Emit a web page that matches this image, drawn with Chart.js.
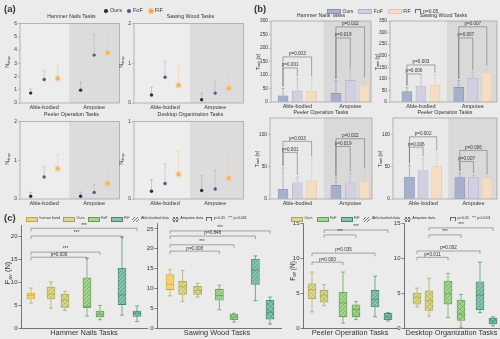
<!DOCTYPE html>
<html>
<head>
<meta charset="utf-8">
<script src="https://cdn.jsdelivr.net/npm/chart.js@4.4.1/dist/chart.umd.min.js"></script>
<style>
html, body { margin: 0; padding: 0; background: #ebebeb; overflow: hidden; }
#fig { position: relative; width: 500px; height: 339px; overflow: hidden; font-family: "Liberation Sans", Arial, sans-serif; color: #333; }
#fig canvas { position: absolute; }
.t { position: absolute; white-space: nowrap; line-height: 1; }
.c { transform: translate(-50%, -50%); }
.m { transform: translateY(-50%); }
.r { transform: translate(-50%, -50%) rotate(-90deg); }
.t sub { font-size: 70%; vertical-align: -0.25em; line-height: 0; }
.sw { position: absolute; box-sizing: border-box; }
</style>
</head>
<body>
<div id="fig"></div>
<script>
/*global Chart*/
"use strict";

// ---------- data ----------
var groups = ["Able-bodied", "Amputee"];
var methods = ["Ours", "FoF", "FiF"];
var aTitles = ["Hammer Nails Tasks", "Sawing Wood Tasks", "Peeler Operation Tasks", "Desktop Organization Tasks"];
var bTitles = ["Hammer Nails Tasks", "Sawing Wood Tasks", "Peeler Operation Tasks", "Peeler Operation Tasks"];
var cTitles = ["Hammer Nails Tasks", "Sawing Wood Tasks", "Peeler Operation Tasks", "Desktop Organization Tasks"];

// (a) N_drop, order: Ours, FoF, FiF (able-bodied), Ours, FoF, FiF (amputee)
var dropMean = [
	[0.75, 1.78, 1.86, 0.97, 3.62, 3.8],
	[0.2, 0.65, 0.45, 0.08, 0.25, 0.37],
	[0.07, 0.57, 0.78, 0.07, 0.17, 0.4],
	[0.1, 0.2, 0.32, 0.11, 0.13, 0.27]
];
var dropHigh = [
	[1.05, 2.45, 2.8, 1.58, 5.2, 5.28],
	[0.4, 1.05, 0.95, 0.25, 0.55, 0.7],
	[0.17, 0.83, 1.15, 0.18, 0.38, 0.7],
	[0.25, 0.45, 0.62, 0.3, 0.37, 0.58]
];
var dropMax = [6, 2, 2, 1];
var dropTicks = [[0, 1, 2, 3, 4, 5, 6], [0, 1, 2], [0, 1, 2], [0, 1]];

// (b) T_task (s), same order
var taskMean = [
	[23, 41, 40, 32, 80, 63],
	[45, 69, 72, 63, 103, 126],
	[15, 25, 28, 21, 25, 27],
	[34, 44, 50, 33, 33, 32]
];
var taskHigh = [
	[50, 88, 86, 78, 118, 84],
	[62, 105, 117, 92, 128, 150],
	[48, 34, 62, 33, 40, 44],
	[52, 63, 72, 40, 37, 35]
];
var taskMax = [300, 350, 125, 125];
var taskTicks = [[0, 50, 100, 150, 200, 250, 300], [0, 50, 100, 150, 200, 250, 300, 350], [0, 50, 100], [0, 50, 100]];
// [from, to, bracket height, label]
var taskSig = [
	[[0, 1, 126, "p=0.001"], [0, 2, 167, "p=0.003"], [3, 4, 237, "p=0.019"], [3, 5, 278, "p=0.022"]],
	[[0, 1, 121, "p=0.006"], [0, 2, 160, "p=0.003"], [3, 4, 277, "p=0.007"], [3, 5, 325, "p=0.007"]],
	[[0, 1, 72, "p=0.001"], [0, 2, 89, "p=0.003"], [3, 4, 81, "p=0.019"], [3, 5, 93, "p=0.022"]],
	[[0, 1, 80, "p=0.006"], [0, 2, 96, "p=0.002"], [3, 4, 58, "p=0.007"], [3, 5, 75, "p=0.006"]]
];

// (c) F_av (N), each box: [min, q1, median, q3, max]
var kinds7 = ["human", "oursA", "oursP", "fofA", "fofP", "fifA", "fifP"];
var kinds6 = ["oursA", "oursP", "fofA", "fofP", "fifA", "fifP"];
var forceHammer = [
	[5.4, 6.3, 7.1, 7.6, 8.7],
	[4.3, 6.3, 7.4, 8.9, 10.0],
	[3.8, 4.5, 6.1, 7.4, 8.0],
	[2.6, 4.4, 4.7, 10.9, 15.2],
	[1.8, 2.4, 3.0, 3.7, 4.9],
	[2.8, 5.1, 7.2, 13.0, 19.8],
	[1.4, 2.5, 3.2, 3.7, 4.8]
];
var forceSawing = [
	[8.1, 9.7, 11.0, 13.5, 14.8],
	[6.7, 8.5, 10.4, 11.8, 14.5],
	[7.8, 8.5, 9.5, 10.5, 11.3],
	[4.6, 7.0, 8.2, 9.8, 10.8],
	[1.5, 2.1, 2.8, 3.5, 3.7],
	[6.9, 11.0, 14.6, 17.4, 18.2],
	[1.0, 2.2, 4.0, 7.0, 7.8]
];
var forcePeeler = [
	[2.3, 4.2, 5.5, 6.3, 8.0],
	[3.2, 3.7, 4.7, 5.4, 6.2],
	[0.7, 1.6, 3.6, 5.1, 8.0],
	[1.2, 1.6, 2.6, 3.3, 3.8],
	[1.6, 3.0, 4.1, 5.4, 7.4],
	[1.0, 1.2, 1.6, 2.1, 2.2]
];
var forceDesktop = [
	[3.0, 3.4, 4.4, 5.0, 5.7],
	[1.7, 2.5, 3.9, 5.3, 7.1],
	[1.5, 3.4, 4.9, 6.7, 7.8],
	[0.1, 1.1, 2.0, 4.0, 4.8],
	[2.2, 2.6, 4.7, 6.6, 9.4],
	[0.3, 0.6, 1.0, 1.4, 1.6]
];
var forceBoxes = [forceHammer, forceSawing, forcePeeler, forceDesktop];
var forceMax = [22.4, 26.5, 15, 15];
var forceTicks = [[0, 5, 10, 15, 20], [0, 5, 10, 15, 20, 25], [0, 5, 10, 15], [0, 5, 10, 15]];
var forceSig = [
	[[0, 6, 21.7, "***"], [0, 5, 20.0, "***"], [0, 4, 16.5, "***"], [0, 3, 15.4, "p=0.009"]],
	[[0, 6, 24.5, "***"], [0, 5, 23.2, "p=0.848"], [0, 4, 21.0, "***"], [0, 3, 19.4, "p=0.008"]],
	[[1, 5, 14.0, "***"], [1, 3, 13.3, "***"], [0, 4, 10.7, "p=0.035"], [0, 2, 9.4, "p=0.003"]],
	[[1, 5, 14.3, "***"], [1, 3, 13.3, "***"], [0, 4, 11.0, "p=0.002"], [0, 2, 10.1, "p=0.011"]]
];

// ---------- layout ----------
// plot rectangles [left, top, right, bottom] in page pixels
var aRects = [[20, 21, 123, 103], [134, 21, 247, 103], [20, 119, 123, 199], [134, 119, 247, 199]];
var aRange = [[0.21, 7.57], [-0.29, 7.78], [0.21, 7.57], [-0.29, 7.78]];
var bRects = [[271, 21, 371, 102], [390, 21, 497, 102], [270, 118, 372, 199], [393, 118, 497, 199]];
var bRange = [[0.16, 7.15], [-0.21, 7.43], [0.09, 7.22], [-0.21, 7.43]];
var slotX = [1, 2, 3, 4.7, 5.7, 6.7];
var split = 3.85;
var groupX = [2, 5.7];
var cRects = [[21, 225, 147, 328], [157, 223, 281, 328], [303, 223, 397, 328], [404, 223, 499, 328]];
var cRange = [[-0.5, 5.8], [-0.65, 5.55], [-0.45, 4.25], [-0.65, 4.1]];
var cSlots = [
	[0, 1, 1.7, 2.8, 3.45, 4.55, 5.3],
	[0, 0.63, 1.38, 2.47, 3.2, 4.27, 5.0],
	[0, 0.6, 1.55, 2.2, 3.15, 3.8],
	[0, 0.6, 1.55, 2.2, 3.15, 3.8]
];

var dotFill = ["#2b3048", "#4f5b8c", "#f0a43a"];
var dotErr = ["#a9acbf", "#b4b8cc", "#f0cf9f"];
var barFill = ["#a7b0cb", "#d2cfe1", "#f4ddc3"];
var barLine = ["#8690b3", "#b3afcb", "#e9c7a0"];
var boxStyle = {
	human: ["#f1d46e", "#c7a63e"],
	ours: ["#dad78d", "#a9a552"],
	fof: ["#a5d48f", "#5f9e55"],
	fif: ["#87c3ab", "#408c70"]
};

var fig = document.getElementById("fig");
Chart.defaults.font.family = "'Liberation Sans', Arial, sans-serif";
Chart.defaults.color = "#333";

// ---------- helpers ----------
function txt(html, x, y, size, cls, css) {
	var d = document.createElement("div");
	d.className = "t " + (cls || "");
	d.style.left = x + "px";
	d.style.top = y + "px";
	d.style.fontSize = size + "px";
	if (css) { d.style.cssText += css; }
	d.innerHTML = html;
	fig.appendChild(d);
	return d;
}

function box(x, y, w, h, css) {
	var d = document.createElement("div");
	d.className = "sw";
	d.style.cssText += "left:" + x + "px;top:" + y + "px;width:" + w + "px;height:" + h + "px;" + (css || "");
	fig.appendChild(d);
	return d;
}

function addCanvas(r, pad) {
	var cv = document.createElement("canvas"),
		w = r[2] - r[0] + pad.l + pad.r,
		h = r[3] - r[1] + pad.t + pad.b;
	cv.width = w;
	cv.height = h;
	cv.style.left = (r[0] - pad.l) + "px";
	cv.style.top = (r[1] - pad.t) + "px";
	cv.style.width = w + "px";
	cv.style.height = h + "px";
	fig.appendChild(cv);
	return cv;
}

function zeroPad(s) {
	s.paddingLeft = 0; s.paddingRight = 0; s.paddingTop = 0; s.paddingBottom = 0;
}

function pattern(fill, line, kind) {
	var n = kind === "hatch" ? 4 : 5,
		p = document.createElement("canvas"), g;
	p.width = n; p.height = n;
	g = p.getContext("2d");
	g.fillStyle = fill;
	g.fillRect(0, 0, n, n);
	g.strokeStyle = line;
	g.lineWidth = 0.6;
	g.beginPath();
	g.moveTo(-1, n + 1); g.lineTo(n + 1, -1);
	if (kind === "diamond") {
		g.moveTo(-1, -1); g.lineTo(n + 1, n + 1);
	} else {
		g.moveTo(-1, 1); g.lineTo(1, -1);
		g.moveTo(n - 1, n + 1); g.lineTo(n + 1, n - 1);
	}
	g.stroke();
	return g.createPattern(p, "repeat");
}

function ticksFrom(list) {
	return function (s) { s.ticks = list.map(function (v) { return { value: v }; }); };
}

// options for the framed panels of (a) and (b)
function framedOptions(pad, xr, ymax, yt) {
	return {
		responsive: false,
		animation: false,
		devicePixelRatio: 1,
		layout: { padding: { left: 0, top: pad.t, right: pad.r, bottom: 0 } },
		plugins: { legend: { display: false }, tooltip: { enabled: false }, title: { display: false } },
		scales: {
			x: {
				type: "linear", offset: false, min: xr[0], max: xr[1],
				grid: { display: false, drawTicks: false }, border: { display: false },
				afterBuildTicks: ticksFrom(groupX),
				ticks: {
					font: { size: 5.5 }, padding: 1.5, maxRotation: 0, autoSkip: false,
					callback: function (v, i) { return groups[i]; }
				},
				afterFit: function (s) { s.height = pad.b; zeroPad(s); }
			},
			y: {
				type: "linear", min: 0, max: ymax,
				grid: { drawOnChartArea: false, tickLength: 2, color: "#999", lineWidth: 0.6 },
				border: { display: false },
				afterBuildTicks: ticksFrom(yt),
				ticks: { font: { size: 4.8 }, padding: 1 },
				afterFit: function (s) { s.width = pad.l; zeroPad(s); }
			}
		}
	};
}

// ---------- plugins ----------
function shade(left, right) {
	return {
		id: "shade",
		beforeDatasetsDraw: function (chart) {
			var a = chart.chartArea, ctx = chart.ctx,
				xm = chart.scales.x.getPixelForValue(split);
			ctx.save();
			ctx.fillStyle = left;
			ctx.fillRect(a.left, a.top, xm - a.left, a.bottom - a.top);
			ctx.fillStyle = right;
			ctx.fillRect(xm, a.top, a.right - xm, a.bottom - a.top);
			ctx.restore();
		}
	};
}

var frame = {
	id: "frame",
	afterDatasetsDraw: function (chart) {
		var a = chart.chartArea, ctx = chart.ctx;
		ctx.save();
		ctx.strokeStyle = "#9c9c9c";
		ctx.lineWidth = 0.7;
		ctx.strokeRect(a.left, a.top, a.right - a.left, a.bottom - a.top);
		ctx.restore();
	}
};

function errorBars(high, colors) {
	return {
		id: "errorBars",
		beforeDatasetsDraw: function (chart) {
			var ctx = chart.ctx, ys = chart.scales.y, els = chart.getDatasetMeta(0).data;
			ctx.save();
			ctx.lineWidth = 0.6;
			els.forEach(function (el, i) {
				var yTop = ys.getPixelForValue(high[i]);
				ctx.strokeStyle = colors[i % 3];
				ctx.beginPath();
				ctx.moveTo(el.x, el.y);
				ctx.lineTo(el.x, yTop);
				ctx.moveTo(el.x - 1.5, yTop);
				ctx.lineTo(el.x + 1.5, yTop);
				ctx.stroke();
			});
			ctx.restore();
		}
	};
}

// significance brackets; legs reach down to legTo values, or are short
function brackets(list, pos, legTo, size) {
	return {
		id: "brackets",
		afterDatasetsDraw: function (chart) {
			var ctx = chart.ctx, xs = chart.scales.x, ys = chart.scales.y;
			ctx.save();
			ctx.strokeStyle = "#666";
			ctx.fillStyle = "#333";
			ctx.lineWidth = 0.55;
			ctx.font = size + "px 'Liberation Sans', Arial, sans-serif";
			ctx.textAlign = "center";
			ctx.textBaseline = "bottom";
			list.forEach(function (b) {
				var x1 = xs.getPixelForValue(pos[b[0]]), x2 = xs.getPixelForValue(pos[b[1]]),
					y = ys.getPixelForValue(b[2]),
					l1 = legTo ? ys.getPixelForValue(legTo[b[0]]) - 2 : y + 3,
					l2 = legTo ? ys.getPixelForValue(legTo[b[1]]) - 2 : y + 3;
				ctx.beginPath();
				ctx.moveTo(x1, l1);
				ctx.lineTo(x1, y);
				ctx.lineTo(x2, y);
				ctx.lineTo(x2, l2);
				ctx.stroke();
				ctx.fillText(b[3], (x1 + x2) / 2, y - 0.6);
			});
			ctx.restore();
		}
	};
}

function whiskers(boxes, lines) {
	return {
		id: "whiskers",
		afterDatasetsDraw: function (chart) {
			var ctx = chart.ctx, ys = chart.scales.y, els = chart.getDatasetMeta(0).data;
			ctx.save();
			ctx.lineWidth = 0.7;
			els.forEach(function (el, i) {
				var b = boxes[i], x = el.x, hw = el.width / 2,
					yMin = ys.getPixelForValue(b[0]), yMed = ys.getPixelForValue(b[2]),
					yQ1 = ys.getPixelForValue(b[1]), yQ3 = ys.getPixelForValue(b[3]),
					yMax = ys.getPixelForValue(b[4]);
				ctx.strokeStyle = lines[i];
				ctx.beginPath();
				ctx.moveTo(x, yQ3); ctx.lineTo(x, yMax);
				ctx.moveTo(x - 2, yMax); ctx.lineTo(x + 2, yMax);
				ctx.moveTo(x, yQ1); ctx.lineTo(x, yMin);
				ctx.moveTo(x - 2, yMin); ctx.lineTo(x + 2, yMin);
				ctx.moveTo(x - hw, yMed); ctx.lineTo(x + hw, yMed);
				ctx.stroke();
			});
			ctx.restore();
		}
	};
}

// ---------- (a) dropped objects ----------
function dropChart(k) {
	var pad = { l: 13, r: 3, t: 4, b: 10 },
		cv = addCanvas(aRects[k], pad),
		pts = slotX.map(function (x, i) { return { x: x, y: dropMean[k][i] }; });
	new Chart(cv, {
		type: "scatter",
		data: {
			datasets: [{
				data: pts,
				pointRadius: [1.7, 1.7, 1.9, 1.7, 1.7, 1.9],
				pointBackgroundColor: slotX.map(function (x, i) { return dotFill[i % 3]; }),
				pointBorderColor: slotX.map(function (x, i) { return i % 3 === 2 ? "rgba(247,196,130,0.55)" : dotFill[i % 3]; }),
				pointBorderWidth: slotX.map(function (x, i) { return i % 3 === 2 ? 2.6 : 0; })
			}]
		},
		options: framedOptions(pad, aRange[k], dropMax[k], dropTicks[k]),
		plugins: [shade("#ededed", "#dcdcdc"), errorBars(dropHigh[k], dotErr), frame]
	});
	var r = aRects[k];
	txt(aTitles[k], (r[0] + r[2]) / 2, r[1] - 4, 5.3, "c");
	txt("N<sub>drop</sub>", r[0] - 12, (r[1] + r[3]) / 2, 5.3, "r");
}

// ---------- (b) task time ----------
function taskChart(k) {
	var pad = { l: 14, r: 3, t: 4, b: 10 },
		cv = addCanvas(bRects[k], pad),
		bars = slotX.map(function (x, i) { return { x: x, y: taskMean[k][i] }; });
	new Chart(cv, {
		type: "bar",
		data: {
			datasets: [{
				data: bars,
				barThickness: 10,
				backgroundColor: slotX.map(function (x, i) { return barFill[i % 3]; }),
				borderColor: slotX.map(function (x, i) { return barLine[i % 3]; }),
				borderWidth: 0.6
			}]
		},
		options: framedOptions(pad, bRange[k], taskMax[k], taskTicks[k]),
		plugins: [shade("#e9e9e9", "#d9d9d9"), errorBars(taskHigh[k], barLine), brackets(taskSig[k], slotX, taskHigh[k], 4.6), frame]
	});
	var r = bRects[k];
	txt(bTitles[k], (r[0] + r[2]) / 2, r[1] - 5, 5.3, "c");
	txt("T<sub>task</sub> (s)", r[0] - 13, (r[1] + r[3]) / 2, 5, "r");
}

// ---------- (c) average force ----------
function forceChart(k) {
	var pad = { l: 14, r: 3, t: 4, b: 2 },
		cv = addCanvas(cRects[k], pad),
		boxes = forceBoxes[k],
		kinds = boxes.length === 7 ? kinds7 : kinds6,
		fills = [], lines = [];
	kinds.forEach(function (kd) {
		var base = kd === "human" ? "human" : kd.slice(0, -1),
			st = boxStyle[base];
		lines.push(st[1]);
		if (kd === "human") {
			fills.push(st[0]);
		} else {
			fills.push(pattern(st[0], st[1], kd.slice(-1) === "A" ? "hatch" : "diamond"));
		}
	});
	new Chart(cv, {
		type: "bar",
		data: {
			datasets: [{
				data: boxes.map(function (b, i) { return { x: cSlots[k][i], y: [b[1], b[3]] }; }),
				barThickness: 8,
				backgroundColor: fills,
				borderColor: lines,
				borderWidth: 0.8,
				borderSkipped: false
			}]
		},
		options: {
			responsive: false,
			animation: false,
			devicePixelRatio: 1,
			layout: { padding: { left: 0, top: pad.t, right: pad.r, bottom: 0 } },
			plugins: { legend: { display: false }, tooltip: { enabled: false } },
			scales: {
				x: {
					type: "linear", offset: false, min: cRange[k][0], max: cRange[k][1],
					grid: { display: false, drawTicks: false },
					border: { display: true, color: "#555", width: 0.8 },
					ticks: { display: false },
					afterFit: function (s) { s.height = pad.b; zeroPad(s); }
				},
				y: {
					type: "linear", min: 0, max: forceMax[k],
					grid: { drawOnChartArea: false, tickLength: 2.5, color: "#555", lineWidth: 0.7 },
					border: { display: true, color: "#555", width: 0.8 },
					afterBuildTicks: ticksFrom(forceTicks[k]),
					ticks: { font: { size: 6 }, padding: 1 },
					afterFit: function (s) { s.width = pad.l; zeroPad(s); }
				}
			}
		},
		plugins: [whiskers(boxes, lines), brackets(forceSig[k], cSlots[k], null, 4.6)]
	});
	var r = cRects[k];
	txt(cTitles[k], (r[0] + r[2]) / 2 + (k === 1 ? -2 : 0), 333, 7.4, "c");
}

[0, 1, 2, 3].forEach(function (k) {
	dropChart(k);
	taskChart(k);
	forceChart(k);
});

// ---------- labels and legends ----------
txt("(a)", 4, 4, 9.5, "", "font-weight:bold");
txt("(b)", 254, 4, 9.5, "", "font-weight:bold");
txt("(c)", 4, 213, 9.5, "", "font-weight:bold");

txt("F<sub>av</sub> (N)", 8, 273, 7.5, "r");
txt("F<sub>av</sub> (N)", 293, 271, 6.5, "r");

// (a) legend
[106, 129, 151].forEach(function (x, i) {
	var css = "border-radius:50%;background:" + dotFill[i] + ";";
	if (i === 2) { css += "box-shadow:0 0 0 1.5px rgba(247,196,130,0.55);"; }
	box(x - 1.7, 11 - 1.7, 3.4, 3.4, css);
	txt(methods[i], x + 4, 11, 5.5, "m");
});

// legend items laid out one after another from x
function flowLegend(items, x, y, size, gap) {
	items.forEach(function (it) {
		var w = 0, css, d;
		if (it.kind === "hatch" || it.kind === "diamond") {
			css = "background:repeating-linear-gradient(135deg,#777 0 0.5px,transparent 0.5px 2px)";
			if (it.kind === "diamond") {
				css += ",repeating-linear-gradient(45deg,#777 0 0.5px,transparent 0.5px 2px)";
			}
			box(x, y - 2.5, 7, 5, css + ";");
			w = 7;
		} else if (it.kind === "bracket") {
			box(x, y - 2, 6, 4, "border:0.6px solid #666;border-bottom:none;");
			w = 6;
		} else if (it.kind) {
			box(x, y - it.h / 2, it.w, it.h, "background:" + it.fill + ";border:0.6px solid " + it.line + ";");
			w = it.w;
		}
		x += w ? w + 1.5 : 0;
		d = txt(it.label, x, y, size, "m");
		x += d.getBoundingClientRect().width + gap;
	});
	return x;
}

// (b) legend
flowLegend([
	{ kind: "sw", w: 14, h: 5, fill: barFill[0], line: barLine[0], label: "Ours" },
	{ kind: "sw", w: 14, h: 5, fill: barFill[1], line: barLine[1], label: "FoF" },
	{ kind: "sw", w: 14, h: 5, fill: barFill[2], line: barLine[2], label: "FiF" },
	{ kind: "bracket", label: "p=0.05" }
], 327, 11, 5, 5);

// (c) legends
function cItem(kind, label) {
	return { kind: "sw", w: 12, h: 5, fill: boxStyle[kind][0], line: boxStyle[kind][1], label: label };
}
flowLegend([
	cItem("human", "human hand"), cItem("ours", "Ours"), cItem("fof", "FoF"), cItem("fif", "FiF"),
	{ kind: "hatch", label: "Able-bodied data" },
	{ kind: "diamond", label: "Amputee data" },
	{ kind: "bracket", label: "p&lt;0.05" },
	{ kind: "", label: "*** p&lt;0.001" }
], 26, 219, 3.7, 3);
flowLegend([
	cItem("ours", "Ours"), cItem("fof", "FoF"), cItem("fif", "FiF"),
	{ kind: "hatch", label: "Able-bodied data" },
	{ kind: "diamond", label: "Amputee data" }
], 291, 219, 3.7, 4);
flowLegend([
	{ kind: "bracket", label: "p&lt;0.05" },
	{ kind: "", label: "*** p&lt;0.001" }
], 450, 219, 3.7, 3);
</script>
</body>
</html>
